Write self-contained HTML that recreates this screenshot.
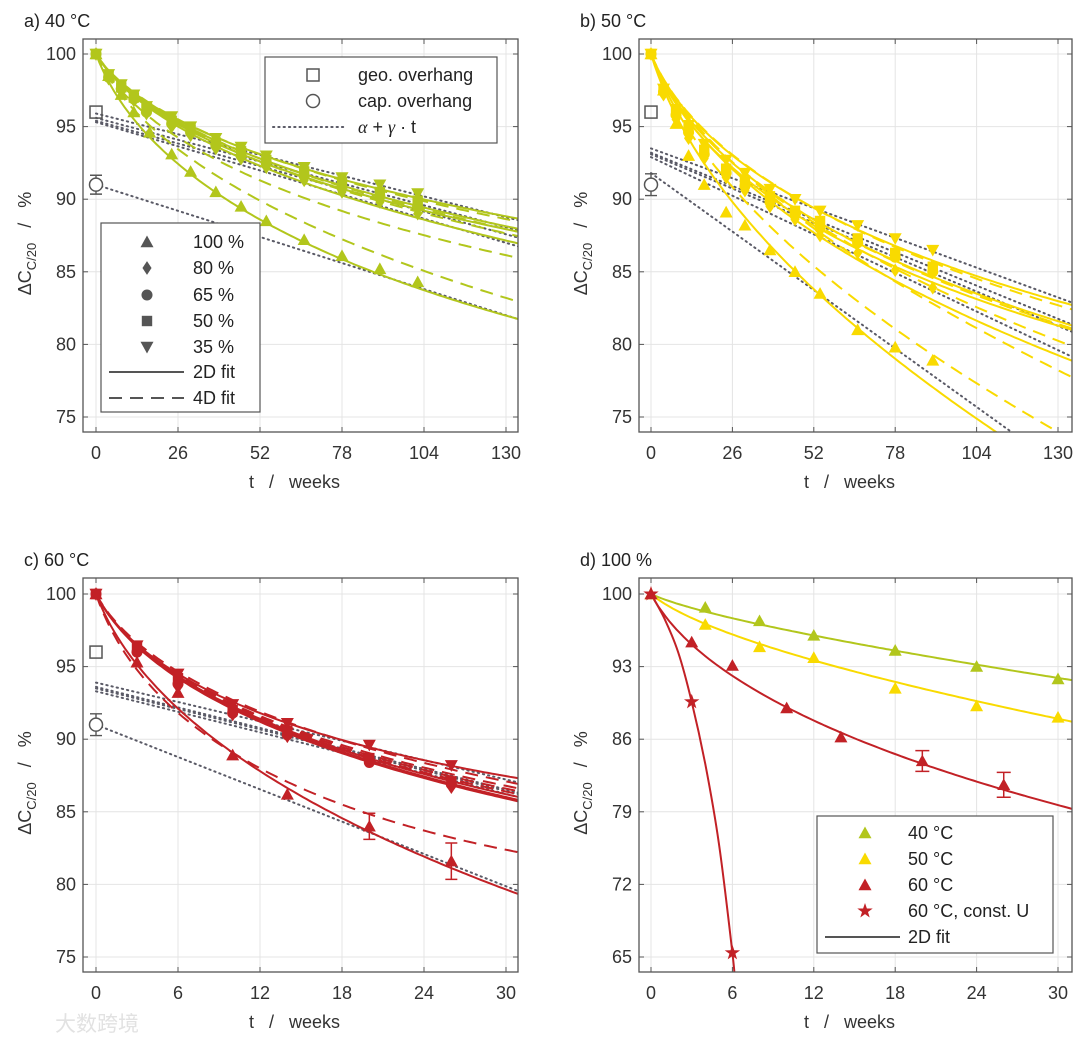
<!DOCTYPE html>
<html><head><meta charset="utf-8"><style>
html,body{margin:0;padding:0;background:#fff;}
svg{display:block;font-family:"Liberation Sans",Arial,sans-serif;}
</style></head><body>
<svg id="fig" width="1080" height="1044" viewBox="0 0 1080 1044" xmlns="http://www.w3.org/2000/svg">
<text x="55" y="1031" font-size="21" fill="#e2e2e2" font-family="'Liberation Sans','Noto Sans CJK SC',sans-serif">大数跨境</text>
</svg>
<script>
// ---------- DATA ----------
const socLabels = ["100 %","80 %","65 %","50 %","35 %"];
const socShapes = ["up","diamond","circle","square","down"];

// panel a (40 °C)
const weeksA100 = [0,4,8,12,17,24,30,38,46,54,66,78,90,102];
const weeksA = [0,4,8,12,16,24,30,38,46,54,66,78,90,102];
const a100 = [100,98.5,97.2,96.0,94.6,93.1,91.9,90.5,89.5,88.5,87.2,86.1,85.2,84.3];
const a80 = [100,98.3,97.5,96.8,95.9,95.0,94.4,93.5,92.8,92.2,91.3,90.5,89.8,89.0];
const a65 = [100,98.4,97.6,96.9,96.0,95.2,94.6,93.7,93.0,92.5,91.6,90.8,90.2,89.5];
const a50 = [100,98.5,97.7,97.0,96.2,95.4,94.8,93.9,93.3,92.7,91.9,91.2,90.5,89.9];
const a35 = [100,98.6,97.9,97.2,96.4,95.7,95.0,94.2,93.6,93.0,92.2,91.5,91.0,90.4];
const aFitT = [52,133];
const aSolidMid = [88.6,92.3,92.6,92.8,93.1];
const aSolidEnd = [81.8,87.0,87.8,88.0,88.7];
const aDashMid = [89.9,91.3,92.6,92.8,93.1];
const aDashEnd = [83.0,86.0,87.5,87.8,88.5];
const aDotStart = [91.0,95.3,95.4,95.6,95.9];
const aDotEnd = [81.8,86.8,87.4,87.9,88.6];

// panel b (50 °C)
const weeksB = [0,4,8,12,17,24,30,38,46,54,66,78,90];
const b100 = [100,97.5,95.2,93.0,91.0,89.1,88.2,86.5,85.0,83.5,81.0,79.8,78.9];
const b80 = [100,97.2,95.5,94.2,92.8,91.5,90.6,89.5,88.6,87.5,86.3,85.1,83.9];
const b65 = [100,97.4,95.8,94.6,93.1,91.8,90.9,89.8,88.9,88.0,87.0,86.0,85.0];
const b50 = [100,97.5,96.0,94.9,93.4,92.1,91.2,90.2,89.2,88.5,87.3,86.3,85.35];
const b35 = [100,97.6,96.2,95.1,93.8,92.7,91.8,90.7,90.0,89.2,88.2,87.3,86.5];
const bFitT = [52,133];
const bSolidMid = [83.8,87.7,88.2,88.6,89.4];
const bSolidEnd = [70.8,79.0,81.1,81.4,82.8];
const bDashMid = [85.4,88.0,88.4,88.6,89.4];
const bDashEnd = [73.6,77.9,80.0,81.2,82.5];
const bDotStart = [91.8,92.9,93.1,93.2,93.5];
const bDotEnd = [71.2,79.3,81.0,81.5,83.0];

// panel c (60 °C)
const weeksC = [0,3,6,10,14,20,26];
const c100 = [100,95.3,93.2,88.9,86.2,84.0,81.6];
const c100Err = [0,0,0,0,0,0.9,1.25];
const c80 = [100,96.1,93.6,91.7,90.2,88.6,86.7];
const c65 = [100,96.0,93.8,91.8,90.3,88.4,86.9];
const c50 = [100,96.3,94.2,92.0,90.6,88.7,87.1];
const c35 = [100,96.45,94.5,92.4,91.1,89.6,88.2];
const cFitT = [12,31];
const cSolidMid = [87.8,91.2,91.3,91.4,91.8];
const cSolidEnd = [79.3,85.7,85.8,86.0,87.3];
const cDashMid = [88.0,91.4,91.5,91.6,91.9];
const cDashEnd = [82.2,86.2,86.4,86.6,86.9];
const cDotStart = [91.0,93.3,93.5,93.6,93.9];
const cDotEnd = [79.5,86.0,86.2,86.3,87.0];

// overhang reference points
const geoOverhang = 96;
const capOverhang = [91.0,91.0,91.0];
const capErr = [0.65,0.75,0.75];

// panel d (100 % SOC)
const dWeeks40 = [0,4,8,12,18,24,30];
const d40 = [100,98.7,97.4,96.0,94.55,93.0,91.8];
const d50 = [100,97.05,94.9,93.85,90.9,89.2,88.1];
const dWeeks60 = [0,3,6,10,14,20,26];
const d60 = [100,95.35,93.1,89.0,86.2,83.9,81.6];
const d60Err = [0,0,0,0,0,1.0,1.2];
const starWeeks = [0,3,6];
const starVals = [100,89.6,65.4];
const starFitT = [0,1,2,3,4,5,6,6.2];
const starFitV = [100,97.6,94.4,89.6,83.6,76.0,65.4,62.5];
const dFitT = [12,31];
const dFitMid = [96.0,93.6,87.8];
const dFitEnd = [91.7,87.7,79.3];

const ticksWeeksLong = [0,26,52,78,104,130];
const ticksWeeksShort = [0,6,12,18,24,30];
const ticksY1 = [75,80,85,90,95,100];
const ticksY2 = [65,72,79,86,93,100];

// ---------- STYLE ----------
const GREEN="#b2c61c", YELLOW="#f9da00", RED="#c22126", GREY="#555", TXT="#333";
const svg=document.getElementById('fig');
const NS="http://www.w3.org/2000/svg";
function el(tag,attrs,parent){const e=document.createElementNS(NS,tag);for(const k in attrs)e.setAttribute(k,attrs[k]);(parent||svg).appendChild(e);return e;}

function makePanel(id,box,xA,xB,yA,yB,soft){
  const g=el('g',{});
  
  
  const sx=t=>xA[1]+(t-xA[0])*(xB[1]-xA[1])/(xB[0]-xA[0]);
  const sy=v=>yA[1]+(v-yA[0])*(yB[1]-yA[1])/(yB[0]-yA[0]);
  const inv=px=>xA[0]+(px-xA[1])*(xB[0]-xA[0])/(xB[1]-xA[1]);
  const clip=el('clipPath',{id:'clip'+id},g);
  el('rect',{x:box.x0,y:box.y0,width:box.x1-box.x0,height:box.y1-box.y0},clip);
  const plot=el('g',{'clip-path':'url(#clip'+id+')'},g);
  return {g,plot,sx,sy,tMax:inv(box.x1),box,soft};
}

function axes(P,xt,yt,title,titleX){
  const {g,sx,sy,box}=P;
  const grid=el('g',{},g);
  
  
  xt.forEach(t=>{el('line',{x1:sx(t),x2:sx(t),y1:box.y0,y2:box.y1,stroke:'#e4e4e4','stroke-width':1},grid);});
  yt.forEach(v=>{el('line',{x1:box.x0,x2:box.x1,y1:sy(v),y2:sy(v),stroke:'#e4e4e4','stroke-width':1},grid);});
  g.insertBefore(grid,g.firstChild);
  el('rect',{x:box.x0,y:box.y0,width:box.x1-box.x0,height:box.y1-box.y0,fill:'none',stroke:GREY,'stroke-width':1.3},g);
  const xl=el('g',{},g);
  
  
  xt.forEach(t=>{
    el('line',{x1:sx(t),x2:sx(t),y1:box.y1,y2:box.y1-5,stroke:GREY},g);
    el('line',{x1:sx(t),x2:sx(t),y1:box.y0,y2:box.y0+5,stroke:GREY},g);
    const tx=el('text',{x:sx(t),y:box.y1+27,'font-size':18,fill:TXT,'text-anchor':'middle'},xl);tx.textContent=t;});
  const yl=el('g',{},g);
  
  
  yt.forEach(v=>{
    el('line',{x1:box.x0,x2:box.x0+5,y1:sy(v),y2:sy(v),stroke:GREY},g);
    el('line',{x1:box.x1,x2:box.x1-5,y1:sy(v),y2:sy(v),stroke:GREY},g);
    const tx=el('text',{x:box.x0-7,y:sy(v)+6,'font-size':18,fill:TXT,'text-anchor':'end'},yl);tx.textContent=v;});
  const xlab=el('text',{x:(box.x0+box.x1)/2-6,y:box.y1+56,'font-size':18,fill:TXT,'text-anchor':'middle'},g);
  xlab.textContent='t\u00a0\u00a0\u00a0/\u00a0\u00a0\u00a0weeks';
  
  
  const cy=(box.y0+box.y1)/2+8, cx=box.x0-52;
  const ylab=el('text',{x:cx,y:cy,'font-size':18,fill:TXT,'text-anchor':'middle',transform:`rotate(-90 ${cx} ${cy})`},g);
  
  
  ylab.innerHTML='ΔC<tspan font-size="13" dy="5">C/20</tspan><tspan dy="-5">\u00a0\u00a0\u00a0/\u00a0\u00a0\u00a0%</tspan>';
  const tt=el('text',{x:titleX,y:box.y0-12,'font-size':18,fill:'#222'},g);
  tt.textContent=title;
  
  
}

function marker(parent,shape,x,y,color,s){
  s=s||6.5;let e;
  if(shape==='up')e=el('polygon',{points:`${x},${y-s} ${x-s},${y+s*0.8} ${x+s},${y+s*0.8}`,fill:color},parent);
  else if(shape==='down')e=el('polygon',{points:`${x},${y+s} ${x-s},${y-s*0.8} ${x+s},${y-s*0.8}`,fill:color},parent);
  else if(shape==='diamond')e=el('polygon',{points:`${x},${y-s*1.05} ${x+s*0.7},${y} ${x},${y+s*1.05} ${x-s*0.7},${y}`,fill:color},parent);
  else if(shape==='circle')e=el('circle',{cx:x,cy:y,r:s*0.85,fill:color},parent);
  else if(shape==='square')e=el('rect',{x:x-s*0.8,y:y-s*0.8,width:s*1.6,height:s*1.6,fill:color},parent);
  else if(shape==='star'){let p=[];for(let i=0;i<10;i++){const r=i%2?s*0.45:s*1.15;const a=-Math.PI/2+i*Math.PI/5;p.push((x+r*Math.cos(a)).toFixed(1)+','+(y+r*Math.sin(a)).toFixed(1));}e=el('polygon',{points:p.join(' '),fill:color},parent);}
  return e;
}

// fit model: 100 - a*(sqrt(t+c)-sqrt(c)) - b*t
function solveFit(c,t1,v1,t2,v2){
  const d1=100-v1,d2=100-v2,s1=Math.sqrt(t1+c)-Math.sqrt(c),s2=Math.sqrt(t2+c)-Math.sqrt(c);
  const det=s1*t2-s2*t1;
  return {a:(d1*t2-d2*t1)/det,b:(s1*d2-s2*d1)/det,c};
}
function fitPath(P,fit,tEnd){
  let d='';const n=120;
  for(let i=0;i<=n;i++){const t=tEnd*i/n;const v=100-fit.a*(Math.sqrt(t+fit.c)-Math.sqrt(fit.c))-fit.b*t;d+=(i?'L':'M')+P.sx(t).toFixed(1)+','+P.sy(v).toFixed(1);}
  return d;
}
function linePath(P,ts,vs){return ts.map((t,i)=>(i?'L':'M')+P.sx(t).toFixed(1)+','+P.sy(vs[i]).toFixed(1)).join('');}
function smoothPath(P,ts,vs){
  const pts=ts.map((t,i)=>[P.sx(t),P.sy(vs[i])]);
  let d='M'+pts[0][0].toFixed(1)+','+pts[0][1].toFixed(1);
  for(let i=0;i<pts.length-1;i++){
    const p0=pts[Math.max(0,i-1)],p1=pts[i],p2=pts[i+1],p3=pts[Math.min(pts.length-1,i+2)];
    const c1=[p1[0]+(p2[0]-p0[0])/6,p1[1]+(p2[1]-p0[1])/6],c2=[p2[0]-(p3[0]-p1[0])/6,p2[1]-(p3[1]-p1[1])/6];
    d+=`C${c1[0].toFixed(1)},${c1[1].toFixed(1)} ${c2[0].toFixed(1)},${c2[1].toFixed(1)} ${p2[0].toFixed(1)},${p2[1].toFixed(1)}`;
  }
  return d;
}

function socPanel(P,color,weeksList,series,fitT,sMid,sEnd,dMid,dEnd,dotS,dotE,errs,capIdx){
  const tE=P.tMax+1;
  dotS.forEach((v0,i)=>{
    const p=el('path',{d:linePath(P,[0,tE],[v0,v0+(dotE[i]-v0)*tE/fitT[1]]),stroke:'#5a5a66','stroke-width':2,'stroke-dasharray':'1.3 4','stroke-linecap':'round',fill:'none'},P.plot);
    
    
  });
  series.forEach((s,i)=>{
    const fs=solveFit(P.soft,fitT[0],sMid[i],fitT[1],sEnd[i]);
    const p=el('path',{d:fitPath(P,fs,tE),stroke:color,'stroke-width':2,fill:'none'},P.plot);
    
    
    const fd=solveFit(P.soft,fitT[0],dMid[i],fitT[1],dEnd[i]);
    const q=el('path',{d:fitPath(P,fd,tE),stroke:color,'stroke-width':2,'stroke-dasharray':'13 8',fill:'none'},P.plot);
    
    
  });
  series.forEach((s,i)=>{
    const mg=el('g',{},P.plot);
    
    
    const w=weeksList[i];
    s.forEach((v,j)=>{
      if(errs&&i===0&&errs[j]){const x=P.sx(w[j]);
        el('path',{d:`M${x},${P.sy(v-errs[j])}V${P.sy(v+errs[j])}M${x-6},${P.sy(v-errs[j])}H${x+6}M${x-6},${P.sy(v+errs[j])}H${x+6}`,stroke:color,'stroke-width':1.5,fill:'none'},mg);}
      const m=marker(mg,socShapes[i],P.sx(w[j]),P.sy(v),color);
      
      
    });
  });
  const ox=P.sx(0);
  const sq=el('rect',{x:ox-6,y:P.sy(geoOverhang)-6,width:12,height:12,fill:'none',stroke:'#555','stroke-width':1.5},P.g);
  
  
  const cv=capOverhang[capIdx],ce=capErr[capIdx];
  const cg=el('g',{},P.g);
  
  
  el('path',{d:`M${ox},${P.sy(cv-ce)}V${P.sy(cv+ce)}M${ox-6},${P.sy(cv-ce)}H${ox+6}M${ox-6},${P.sy(cv+ce)}H${ox+6}`,stroke:'#555','stroke-width':1.4,fill:'none'},cg);
  el('circle',{cx:ox,cy:P.sy(cv),r:6.5,fill:'#fff',stroke:'#555','stroke-width':1.5},cg);
}

function legendText(parent,x,y,str,italic){const t=el('text',{x,y:y+6,'font-size':18,fill:'#222','font-style':italic?'italic':'normal'},parent);t.textContent=str;return t;}

// ---------- PANELS ----------
const PA=makePanel('a',{x0:83,x1:518,y0:39,y1:432},[0,96],[130,506],[100,54],[75,417],4);
axes(PA,ticksWeeksLong,ticksY1,'a) 40 °C',24);
socPanel(PA,GREEN,[weeksA100,weeksA,weeksA,weeksA,weeksA],[a100,a80,a65,a50,a35],aFitT,aSolidMid,aSolidEnd,aDashMid,aDashEnd,aDotStart,aDotEnd,null,0);

const PB=makePanel('b',{x0:639,x1:1072,y0:39,y1:432},[0,651],[130,1058],[100,54],[75,417],4);
axes(PB,ticksWeeksLong,ticksY1,'b) 50 °C',580);
socPanel(PB,YELLOW,[weeksB,weeksB,weeksB,weeksB,weeksB],[b100,b80,b65,b50,b35],bFitT,bSolidMid,bSolidEnd,bDashMid,bDashEnd,bDotStart,bDotEnd,null,1);

const PC=makePanel('c',{x0:83,x1:518,y0:578,y1:972},[0,96],[30,506],[100,594],[75,957],1);
axes(PC,ticksWeeksShort,ticksY1,'c) 60 °C',24);
socPanel(PC,RED,[weeksC,weeksC,weeksC,weeksC,weeksC],[c100,c80,c65,c50,c35],cFitT,cSolidMid,cSolidEnd,cDashMid,cDashEnd,cDotStart,cDotEnd,c100Err,2);

const PD=makePanel('d',{x0:639,x1:1072,y0:578,y1:972},[0,651],[30,1058],[100,594],[65,957],1);
axes(PD,ticksWeeksShort,ticksY2,'d) 100 %',580);
(function(){
  const P=PD,tE=P.tMax+1,cols=[GREEN,YELLOW,RED],names=['40C','50C','60C'];
  const wl=[dWeeks40,dWeeks40,dWeeks60],sl=[d40,d50,d60];
  sl.forEach((s,i)=>{
    const f=solveFit(P.soft,dFitT[0],dFitMid[i],dFitT[1],dFitEnd[i]);
    const p=el('path',{d:fitPath(P,f,tE),stroke:cols[i],'stroke-width':2,fill:'none'},P.plot);
    
    
  });
  const sp=el('path',{d:smoothPath(P,starFitT,starFitV),stroke:RED,'stroke-width':2,fill:'none'},P.plot);
  
  
  sl.forEach((s,i)=>{
    const mg=el('g',{},P.plot);
    
    
    s.forEach((v,j)=>{
      if(i===2&&d60Err[j]){const x=P.sx(wl[i][j]),e=d60Err[j];
        el('path',{d:`M${x},${P.sy(v-e)}V${P.sy(v+e)}M${x-7},${P.sy(v-e)}H${x+7}M${x-7},${P.sy(v+e)}H${x+7}`,stroke:RED,'stroke-width':1.5,fill:'none'},mg);}
      const m=marker(mg,'up',P.sx(wl[i][j]),P.sy(v),cols[i]);
      
      
    });
  });
  const stg=el('g',{},P.plot);
  
  
  starVals.forEach((v,j)=>{
    const m=marker(stg,'star',P.sx(starWeeks[j]),P.sy(v),RED,7);
    
    
  });
})();

// ---------- LEGENDS ----------
(function(){
  const L1=el('g',{});
  
  
  el('rect',{x:265,y:57,width:232,height:86,fill:'#fff',stroke:GREY,'stroke-width':1.2},L1);
  el('rect',{x:307,y:69,width:12,height:12,fill:'none',stroke:'#555','stroke-width':1.5},L1);
  legendText(L1,358,75,'geo. overhang');
  el('circle',{cx:313,cy:101,r:6.5,fill:'none',stroke:'#555','stroke-width':1.5},L1);
  legendText(L1,358,101,'cap. overhang');
  el('line',{x1:273,x2:345,y1:127,y2:127,stroke:'#5a5a66','stroke-width':2,'stroke-dasharray':'1.3 4','stroke-linecap':'round'},L1);
  const f=legendText(L1,358,127,'');f.innerHTML='<tspan font-family="Liberation Serif,serif" font-style="italic">α</tspan> + <tspan font-family="Liberation Serif,serif" font-style="italic">γ</tspan> · t';

  const L2=el('g',{});
  
  
  el('rect',{x:101,y:223,width:159,height:189,fill:'#fff',stroke:GREY,'stroke-width':1.2},L2);
  const ys=[242,268,295,321,347];
  socLabels.forEach((lab,i)=>{
    const e=el('g',{},L2);
    
    
    marker(e,socShapes[i],147,ys[i],'#555');
    legendText(e,193,ys[i],lab);
  });
  el('line',{x1:109,x2:184,y1:372,y2:372,stroke:'#555','stroke-width':2},L2);
  legendText(L2,193,372,'2D fit');
  el('line',{x1:109,x2:184,y1:398,y2:398,stroke:'#555','stroke-width':2,'stroke-dasharray':'13 8'},L2);
  legendText(L2,193,398,'4D fit');

  const L3=el('g',{});
  
  
  el('rect',{x:817,y:816,width:236,height:137,fill:'#fff',stroke:GREY,'stroke-width':1.2},L3);
  const labs=['40 °C','50 °C','60 °C','60 °C, const. U'],cs=[GREEN,YELLOW,RED,RED],sh=['up','up','up','star'];
  const y3=[833,859,885,911];
  labs.forEach((lab,i)=>{
    const e=el('g',{},L3);
    
    
    marker(e,sh[i],865,y3[i],cs[i],sh[i]==='star'?7:6.5);
    legendText(e,908,y3[i],lab);
  });
  el('line',{x1:825,x2:900,y1:937,y2:937,stroke:'#555','stroke-width':2},L3);
  legendText(L3,908,937,'2D fit');
})();
</script>
</body></html>
